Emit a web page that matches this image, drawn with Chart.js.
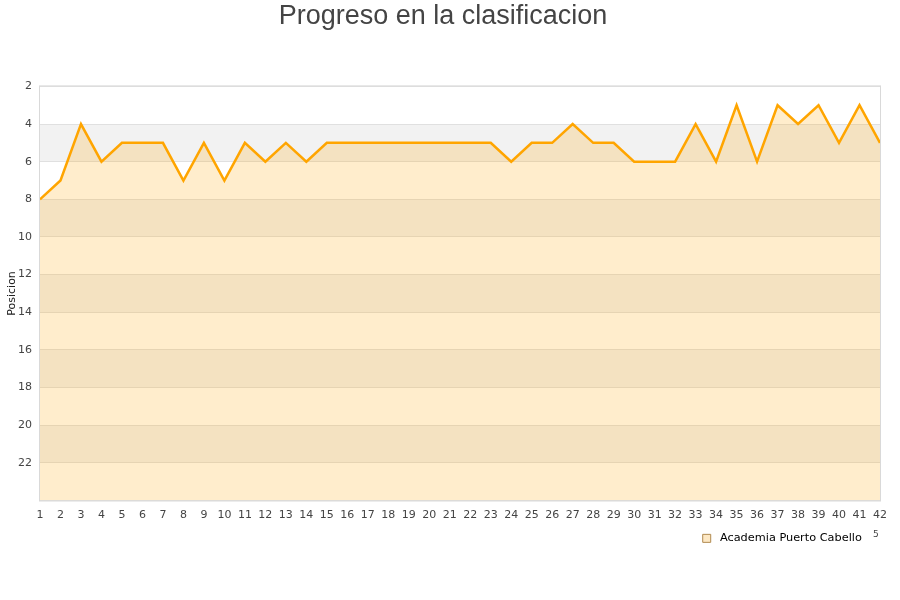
<!DOCTYPE html>
<html>
<head>
<meta charset="utf-8">
<script src="https://cdn.jsdelivr.net/npm/chart.js@4.4.1/dist/chart.umd.min.js"></script>
<style>
    html, body { margin: 0; padding: 0; background: #fff; }
    #wrap { width: 900px; height: 600px; }
</style>
</head>
<body>
<div id="wrap"><canvas id="progreso"></canvas></div>
<script>
// jornadas 1..42
const jornadas = [];
for (let j = 1; j <= 42; j++) jornadas.push(String(j));

// posicion por jornada
const posiciones = [8, 7, 4, 6, 5, 5, 5, 7, 5, 7,
                    5, 6, 5, 6, 5, 5, 5, 5, 5, 5,
                    5, 5, 5, 6, 5, 5, 4, 5, 5, 6,
                    6, 6, 4, 6, 3, 6, 3, 4, 3, 5,
                    3, 5];

const equipo = 'Academia Puerto Cabello';

// franjas grises del fondo
const franjas = [[4, 6], [8, 10], [12, 14], [16, 18], [20, 22]];

const fondo = {
    id: 'fondo',
    beforeDraw(chart) {
        const ctx = chart.ctx;
        const area = chart.chartArea;
        const y = chart.scales.y;
        ctx.save();
        ctx.fillStyle = '#f2f2f2';
        franjas.forEach(f => {
            const y1 = y.getPixelForValue(f[0]);
            const y2 = y.getPixelForValue(f[1]);
            ctx.fillRect(area.left, y1, area.right - area.left, y2 - y1);
        });
        ctx.restore();
    },
    afterDraw(chart) {
        const ctx = chart.ctx;
        const area = chart.chartArea;
        ctx.save();
        ctx.strokeStyle = '#d9d9d9';
        ctx.lineWidth = 1;
        ctx.strokeRect(area.left - 0.5, area.top - 0.5, area.right - area.left + 1, area.bottom - area.top + 1);
        ctx.fillStyle = '#444';
        ctx.font = '9px "DejaVu Sans"';
        ctx.fillText('5', 873, 535);
        ctx.restore();
    }
};

new Chart(document.getElementById('progreso'), {
    type: 'line',
    data: {
        labels: jornadas,
        datasets: [{
            label: equipo,
            data: posiciones,
            borderColor: '#ffa500',
            borderWidth: 2.5,
            backgroundColor: 'rgba(255,165,0,0.2)',
            fill: { value: 24 },
            pointRadius: 0,
            tension: 0
        }]
    },
    options: {
        responsive: true,
        maintainAspectRatio: false,
        animation: false,
        layout: {
            padding: { left: 6, right: 20, top: 0, bottom: 46 }
        },
        plugins: {
            title: {
                display: true,
                text: 'Progreso en la clasificacion',
                color: '#444',
                font: { family: '"Liberation Sans", Arial', size: 27, weight: 'normal' },
                padding: { top: 0, bottom: 54 }
            },
            legend: {
                position: 'bottom',
                align: 'end',
                labels: {
                    color: '#111',
                    font: { family: '"DejaVu Sans"', size: 11.3 },
                    boxWidth: 8,
                    boxHeight: 8,
                    padding: 11,
                    generateLabels: function (chart) {
                        return [{
                            text: ' ' + equipo + '  ',
                            fillStyle: '#fde8c4',
                            strokeStyle: '#b08a50',
                            lineWidth: 1,
                            hidden: false,
                            datasetIndex: 0
                        }];
                    }
                }
            },
            tooltip: { enabled: false }
        },
        scales: {
            x: {
                offset: false,
                grid: { display: false },
                border: { display: false },
                ticks: {
                    autoSkip: false,
                    maxRotation: 0,
                    color: '#444',
                    padding: 0,
                    font: { family: '"DejaVu Sans"', size: 11 }
                }
            },
            y: {
                reverse: true,
                min: 2,
                max: 24,
                afterFit: function (scale) { scale.width = 34; },
                grid: { color: '#e0e0e0', drawTicks: false },
                border: { display: false },
                title: {
                    display: true,
                    text: 'Posicion',
                    color: '#222',
                    padding: 0,
                    font: { family: '"DejaVu Sans"', size: 11 }
                },
                ticks: {
                    stepSize: 2,
                    color: '#444',
                    padding: 8,
                    font: { family: '"DejaVu Sans"', size: 11 },
                    callback: (v) => v === 24 ? '' : v
                }
            }
        }
    },
    plugins: [fondo]
});
</script>
</body>
</html>
